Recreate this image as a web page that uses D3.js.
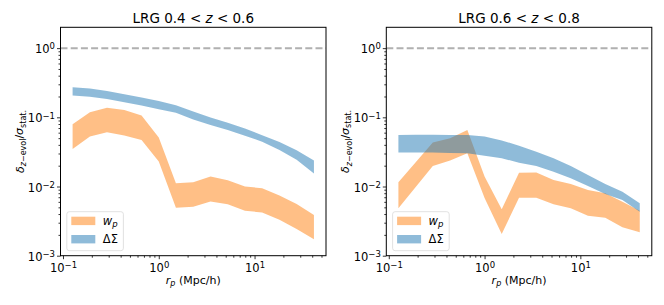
<!DOCTYPE html>
<html>
<head>
<meta charset="utf-8">
<script src="https://cdn.jsdelivr.net/npm/d3@7"></script>
<style>
  body { margin: 0; background: #fff; }
  text { font-family: "DejaVu Sans", sans-serif; fill: #000; }
</style>
</head>
<body>
<svg id="chart" width="664" height="305"></svg>
<script>
// r_p bin centres (Mpc/h)
const rp = [0.126, 0.191, 0.288, 0.437, 0.661, 1.0, 1.51, 2.29, 3.47, 5.25, 7.94, 12.0, 18.2, 27.5, 41.7];

// LRG 0.4 < z < 0.6
const wpLo1 = [0.0349, 0.0526, 0.0609, 0.0544, 0.0472, 0.0229, 0.00493, 0.00512, 0.00608, 0.00554, 0.00447, 0.00421, 0.00332, 0.00243, 0.00173];
const wpHi1 = [0.0796, 0.1186, 0.138, 0.128, 0.106, 0.0509, 0.0111, 0.0115, 0.0140, 0.0123, 0.0100, 0.00944, 0.00743, 0.0056, 0.00388];
const dsLo1 = [0.206, 0.198, 0.184, 0.165, 0.148, 0.131, 0.116, 0.0927, 0.0777, 0.0658, 0.0542, 0.0445, 0.0338, 0.0244, 0.0154];
const dsHi1 = [0.273, 0.261, 0.241, 0.215, 0.194, 0.172, 0.150, 0.121, 0.0998, 0.0834, 0.0692, 0.0551, 0.0441, 0.0334, 0.0237];

// LRG 0.6 < z < 0.8
const wpLo2 = [0.00485, 0.0098, 0.0198, 0.0237, 0.0303, 0.00683, 0.00206, 0.00687, 0.0069, 0.00554, 0.00485, 0.00379, 0.00355, 0.00258, 0.00218];
const wpHi2 = [0.0115, 0.0225, 0.0431, 0.0499, 0.0658, 0.0139, 0.00469, 0.0158, 0.0159, 0.0124, 0.0109, 0.00891, 0.0080, 0.00604, 0.00448];
const dsLo2 = [0.0309, 0.0309, 0.0309, 0.0306, 0.0303, 0.0279, 0.0256, 0.0221, 0.0198, 0.0164, 0.0132, 0.0102, 0.0078, 0.0064, 0.00433];
const dsHi2 = [0.0557, 0.0560, 0.0562, 0.0557, 0.0557, 0.0530, 0.0464, 0.0389, 0.0319, 0.0256, 0.0198, 0.0147, 0.0109, 0.00843, 0.00573];

const titles = [["0.4", "0.6"], ["0.6", "0.8"]];
const xTicks = [0.1, 1, 10];
const xTickExp = ["\u22121", "0", "1"];
const yTicks = [0.001, 0.01, 0.1, 1];
const yTickExp = ["\u22123", "\u22122", "\u22121", "0"];

const orange = "#ff7f0e", blue = "#1f77b4";

const panels = [
  {left: 60.5, title: titles[0], wp: [wpLo1, wpHi1], ds: [dsLo1, dsHi1]},
  {left: 386.3, title: titles[1], wp: [wpLo2, wpHi2], ds: [dsLo2, dsHi2]}
];

const svg = d3.select("#chart");
const W = 265.5, yTop = 27.3, yBot = 255.7;

function minorTicks(lo, hi) {
  const out = [];
  for (let e = -4; e <= 3; e++) for (let m = 2; m <= 9; m++) {
    const v = m * Math.pow(10, e);
    if (v > lo && v < hi) out.push(v);
  }
  return out;
}

function supLabel(sel, exps) {
  sel.each(function(d, i) {
    const t = d3.select(this).text(null);
    t.append("tspan").text("10");
    t.append("tspan").attr("dy", "-0.45em").attr("font-size", "8.5px").text(exps[i]);
  });
}

panels.forEach(p => {
  const x = d3.scaleLog().domain([Math.pow(10, -1.026), Math.pow(10, 1.746)]).range([p.left, p.left + W]);
  const y = d3.scaleLog().domain([0.001, 2.0]).range([yBot, yTop]);
  const g = svg.append("g");

  g.append("clipPath").attr("id", "clip" + Math.round(p.left))
    .append("rect").attr("x", p.left).attr("y", yTop).attr("width", W).attr("height", yBot - yTop);
  const plot = g.append("g").attr("clip-path", `url(#clip${Math.round(p.left)})`);

  // reference line at unity
  plot.append("line")
    .attr("x1", p.left).attr("x2", p.left + W)
    .attr("y1", y(1)).attr("y2", y(1))
    .attr("stroke", "#b0b0b0").attr("stroke-width", 2)
    .attr("stroke-dasharray", "7,3.2");

  const area = (lo, hi) => d3.area()
    .x((d, i) => x(rp[i]))
    .y0((d, i) => y(lo[i]))
    .y1((d, i) => y(hi[i]))(rp);

  plot.append("path").attr("d", area(p.wp[0], p.wp[1]))
    .attr("fill", orange).attr("fill-opacity", 0.5);
  plot.append("path").attr("d", area(p.ds[0], p.ds[1]))
    .attr("fill", blue).attr("fill-opacity", 0.5);

  // axes
  const xAx = g.append("g").attr("transform", `translate(0,${yBot})`)
    .call(d3.axisBottom(x).tickValues(xTicks).tickSize(3.5).tickPadding(2));
  supLabel(xAx.selectAll(".tick text").attr("font-size", "11.5px").attr("dy", "0.9em"), xTickExp);
  g.append("g").attr("transform", `translate(0,${yBot})`)
    .call(d3.axisBottom(x).tickValues(minorTicks(x.domain()[0], x.domain()[1])).tickSize(2).tickFormat(""));

  const yAx = g.append("g").attr("transform", `translate(${p.left},0)`)
    .call(d3.axisLeft(y).tickValues(yTicks).tickSize(3.5).tickPadding(2));
  supLabel(yAx.selectAll(".tick text").attr("font-size", "11.5px").attr("dy", "0.4em"), yTickExp);
  g.append("g").attr("transform", `translate(${p.left},0)`)
    .call(d3.axisLeft(y).tickValues(minorTicks(0.001, 2.0)).tickSize(2).tickFormat(""));

  g.selectAll(".domain").remove();
  g.selectAll(".tick line").attr("stroke", "#000").attr("stroke-width", 0.8);

  g.append("rect").attr("x", p.left).attr("y", yTop).attr("width", W).attr("height", yBot - yTop)
    .attr("fill", "none").attr("stroke", "#000").attr("stroke-width", 1);

  // title
  const cx = p.left + W / 2;
  const t = g.append("text").attr("x", cx).attr("y", 22.5).attr("text-anchor", "middle").attr("font-size", "13.5px");
  t.append("tspan").text(`LRG ${p.title[0]} < `);
  t.append("tspan").attr("font-style", "italic").text("z");
  t.append("tspan").text(` < ${p.title[1]}`);

  // x label
  const xl = g.append("text").attr("x", cx).attr("y", 284).attr("text-anchor", "middle").attr("font-size", "11px");
  xl.append("tspan").attr("font-style", "italic").text("r");
  xl.append("tspan").attr("font-style", "italic").attr("font-size", "8px").attr("dy", "0.3em").text("p");
  xl.append("tspan").attr("dy", "-0.25em").text(" (Mpc/h)");

  // y label
  const yl = g.append("text")
    .attr("transform", `translate(${p.left - 37},${(yTop + yBot) / 2}) rotate(-90)`)
    .attr("text-anchor", "middle").attr("font-size", "11px");
  yl.append("tspan").attr("font-style", "italic").text("\u03b4");
  yl.append("tspan").attr("font-style", "italic").attr("font-size", "8px").attr("dy", "0.3em").text("z");
  yl.append("tspan").attr("font-size", "8px").text("\u2212evol");
  yl.append("tspan").attr("dy", "-0.25em").text("/");
  yl.append("tspan").attr("font-style", "italic").text("\u03c3");
  yl.append("tspan").attr("font-size", "8px").attr("dy", "0.3em").text("stat.");

  // legend
  const lx = p.left + 6.3, ly = 211.7;
  const lg = g.append("g");
  lg.append("rect").attr("x", lx).attr("y", ly).attr("width", 56.6).attr("height", 39)
    .attr("rx", 2.5).attr("fill", "#fff").attr("fill-opacity", 0.8)
    .attr("stroke", "#d9d9d9").attr("stroke-width", 0.8);
  const items = [
    {c: orange, y: ly + 5},
    {c: blue, y: ly + 23.3}
  ];
  items.forEach((it, k) => {
    lg.append("rect").attr("x", lx + 4.5).attr("y", it.y).attr("width", 24).attr("height", 8.4)
      .attr("fill", it.c).attr("fill-opacity", 0.5);
    const lt = lg.append("text").attr("x", lx + 36).attr("y", it.y + 8.2).attr("font-size", "11.5px");
    if (k === 0) {
      lt.append("tspan").attr("font-style", "italic").text("w");
      lt.append("tspan").attr("font-style", "italic").attr("font-size", "8.5px").attr("dy", "0.3em").text("p");
    } else {
      lt.text("\u0394\u03a3");
    }
  });
});
</script>
</body>
</html>
